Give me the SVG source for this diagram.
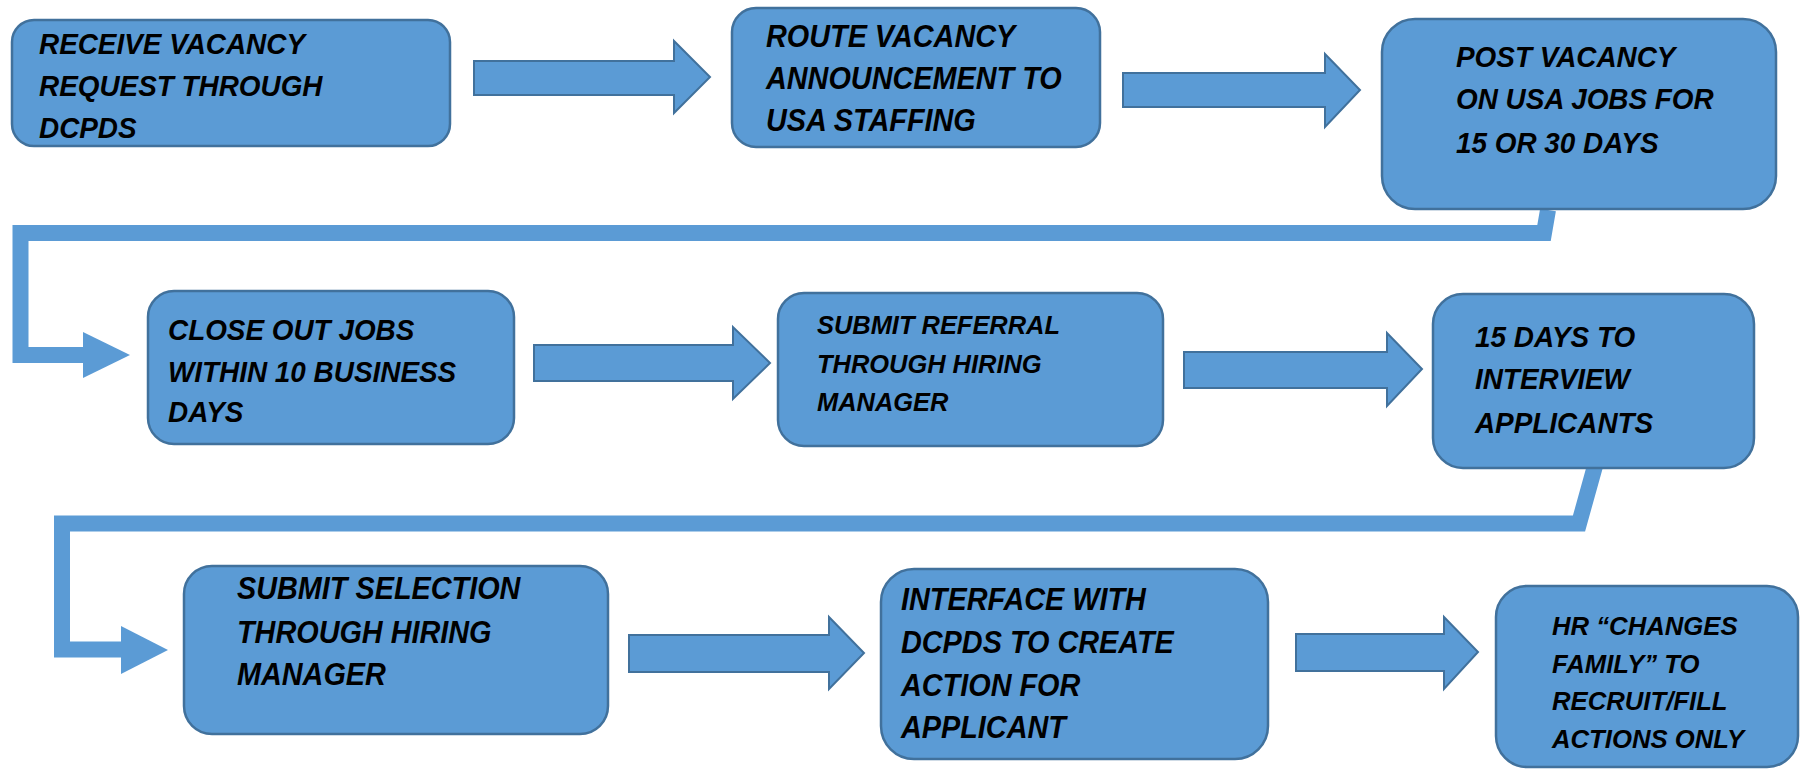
<svg xmlns="http://www.w3.org/2000/svg" width="1801" height="769" viewBox="0 0 1801 769">
<style>
.box{fill:#5B9BD5;stroke:#41719C;stroke-width:2.5}
.arr{fill:#5B9BD5;stroke:#41719C;stroke-width:2;stroke-linejoin:miter}
.conn{fill:none;stroke:#5B9BD5;stroke-width:16;stroke-linejoin:miter;stroke-linecap:butt}
.head{fill:#5B9BD5;stroke:none}
text{font-family:"Liberation Sans",Arial,sans-serif;font-weight:bold;font-style:italic;fill:#000}
.t30{font-size:30px}
.t31{font-size:31px}
.t26{font-size:26.5px}
</style>
<rect width="1801" height="769" fill="#fff"/>
<g id="connectors">
<polygon class="arr" points="474,61 674,61 674,41 710,77 674,113 674,95 474,95"/>
<polygon class="arr" points="1123,73 1325,73 1325,54 1360,90 1325,127 1325,107 1123,107"/>
<polyline class="conn" points="1548,210 1544,233 20.5,233 20.5,355 84,355"/>
<polygon class="head" points="83,332 130,355 83,378"/>
<polygon class="arr" points="534,345 733,345 733,327 770,363 733,399 733,381 534,381"/>
<polygon class="arr" points="1184,352 1387,352 1387,333 1422,369 1387,406 1387,388 1184,388"/>
<polyline class="conn" points="1595,466 1579,523.5 62,523.5 62,649.5 122,649.5"/>
<polygon class="head" points="121,626 168,650 121,674"/>
<polygon class="arr" points="629,635 829,635 829,617 864,653 829,689 829,672 629,672"/>
<polygon class="arr" points="1296,634 1444,634 1444,617 1478,652 1444,689 1444,671 1296,671"/>
</g>
<g id="n1">
<rect class="box" x="12" y="20" width="438" height="126" rx="22"/>
<g transform="matrix(0.93 0 0 1 2.73 0)">
<text class="t30" x="39" y="54">RECEIVE VACANCY</text>
<text class="t30" x="39" y="96">REQUEST THROUGH</text>
<text class="t30" x="39" y="138">DCPDS</text>
</g>
</g>
<g id="n2">
<rect class="box" x="732" y="8" width="368" height="139" rx="24"/>
<g transform="matrix(0.93 0 0 1 53.62 0)">
<text class="t31" x="766" y="47">ROUTE VACANCY</text>
<text class="t31" x="766" y="89">ANNOUNCEMENT TO</text>
<text class="t31" x="766" y="131">USA STAFFING</text>
</g>
</g>
<g id="n3">
<rect class="box" x="1382" y="19" width="394" height="190" rx="33"/>
<g transform="matrix(0.93 0 0 1 101.92 0)">
<text class="t30" x="1456" y="67">POST VACANCY</text>
<text class="t30" x="1456" y="109">ON USA JOBS FOR</text>
<text class="t30" x="1456" y="153">15 OR 30 DAYS</text>
</g>
</g>
<g id="n4">
<rect class="box" x="148" y="291" width="366" height="153" rx="26"/>
<g transform="matrix(0.93 0 0 1 11.76 0)">
<text class="t30" x="168" y="340">CLOSE OUT JOBS</text>
<text class="t30" x="168" y="382">WITHIN 10 BUSINESS</text>
<text class="t30" x="168" y="422">DAYS</text>
</g>
</g>
<g id="n5">
<rect class="box" x="778" y="293" width="385" height="153" rx="26"/>
<g transform="matrix(0.96 0 0 1 32.68 0)">
<text class="t26" x="817" y="334">SUBMIT REFERRAL</text>
<text class="t26" x="817" y="373">THROUGH HIRING</text>
<text class="t26" x="817" y="411">MANAGER</text>
</g>
</g>
<g id="n6">
<rect class="box" x="1433" y="294" width="321" height="174" rx="30"/>
<g transform="matrix(0.93 0 0 1 103.25 0)">
<text class="t30" x="1475" y="347">15 DAYS TO</text>
<text class="t30" x="1475" y="389">INTERVIEW</text>
<text class="t30" x="1475" y="433">APPLICANTS</text>
</g>
</g>
<g id="n7">
<rect class="box" x="184" y="566" width="424" height="168" rx="28"/>
<g transform="matrix(0.93 0 0 1 16.59 0)">
<text class="t31" x="237" y="599">SUBMIT SELECTION</text>
<text class="t31" x="237" y="643">THROUGH HIRING</text>
<text class="t31" x="237" y="685">MANAGER</text>
</g>
</g>
<g id="n8">
<rect class="box" x="881" y="569" width="387" height="190" rx="33"/>
<g transform="matrix(0.93 0 0 1 63.07 0)">
<text class="t31" x="901" y="610">INTERFACE WITH</text>
<text class="t31" x="901" y="653">DCPDS TO CREATE</text>
<text class="t31" x="901" y="696">ACTION FOR</text>
<text class="t31" x="901" y="738">APPLICANT</text>
</g>
</g>
<g id="n9">
<rect class="box" x="1496" y="586" width="302" height="181" rx="31"/>
<g transform="matrix(0.97 0 0 1 46.56 0)">
<text class="t26" x="1552" y="635">HR “CHANGES</text>
<text class="t26" x="1552" y="673">FAMILY” TO</text>
<text class="t26" x="1552" y="710">RECRUIT/FILL</text>
<text class="t26" x="1552" y="748">ACTIONS ONLY</text>
</g>
</g>
</svg>
